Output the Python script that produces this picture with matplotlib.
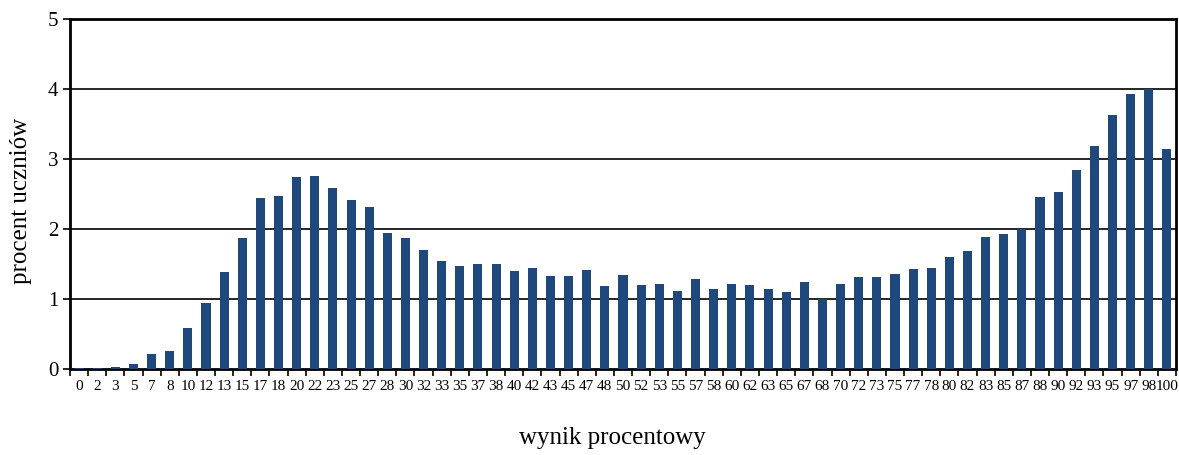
import matplotlib
matplotlib.use('Agg')
import matplotlib.pyplot as plt
import numpy as np

scores = ['0', '2', '3', '5', '7', '8', '10', '12', '13', '15', '17', '18', '20', '22', '23',
          '25', '27', '28', '30', '32', '33', '35', '37', '38', '40', '42', '43', '45', '47',
          '48', '50', '52', '53', '55', '57', '58', '60', '62', '63', '65', '67', '68', '70',
          '72', '73', '75', '77', '78', '80', '82', '83', '85', '87', '88', '90', '92', '93',
          '95', '97', '98', '100']
percent = [0.01, 0.01, 0.03, 0.07, 0.21, 0.26, 0.58, 0.94, 1.39, 1.87, 2.44, 2.47, 2.74, 2.76,
           2.58, 2.42, 2.31, 1.94, 1.87, 1.70, 1.54, 1.47, 1.50, 1.50, 1.40, 1.45, 1.33, 1.33,
           1.41, 1.19, 1.34, 1.20, 1.22, 1.12, 1.29, 1.15, 1.22, 1.20, 1.15, 1.10, 1.25, 1.00,
           1.22, 1.31, 1.32, 1.36, 1.43, 1.45, 1.60, 1.69, 1.88, 1.93, 2.00, 2.46, 2.53, 2.85,
           3.19, 3.63, 3.93, 4.00, 3.14]

plt.rcParams['font.family'] = ['Liberation Serif', 'DejaVu Serif']

fig = plt.figure(figsize=(11.79, 4.55), dpi=100)
ax = fig.add_axes([70 / 1179, 1 - 369 / 455, 1106 / 1179, 350 / 455])

x = np.arange(len(scores))
ax.bar(x, percent, width=0.5, color='#1f497d', zorder=3)

ax.set_xlim(-0.5, len(scores) - 0.5)
ax.set_ylim(0, 5)
ax.set_yticks(range(6))
ax.tick_params(axis='y', labelsize=15, direction='out', length=5, width=1.2)
ax.set_xticks(x)
ax.set_xticklabels(scores, fontsize=11)
ax.tick_params(axis='x', which='major', length=0, pad=8)
ax.set_xticks(np.arange(len(scores) + 1) - 0.5, minor=True)
ax.tick_params(axis='x', which='minor', length=5, width=1.2, direction='out')

for y in range(1, 5):
    ax.axhline(y, color='black', linewidth=1.2, zorder=2)

for s in ax.spines.values():
    s.set_linewidth(2)
    s.set_color('black')

ax.set_ylabel('procent uczniów', fontsize=18)
ax.yaxis.set_label_coords(-0.034, 0.48)
ax.set_xlabel('wynik procentowy', fontsize=18)
ax.xaxis.set_label_coords(0.49, -0.165)

fig.savefig('out.png', dpi=100)
